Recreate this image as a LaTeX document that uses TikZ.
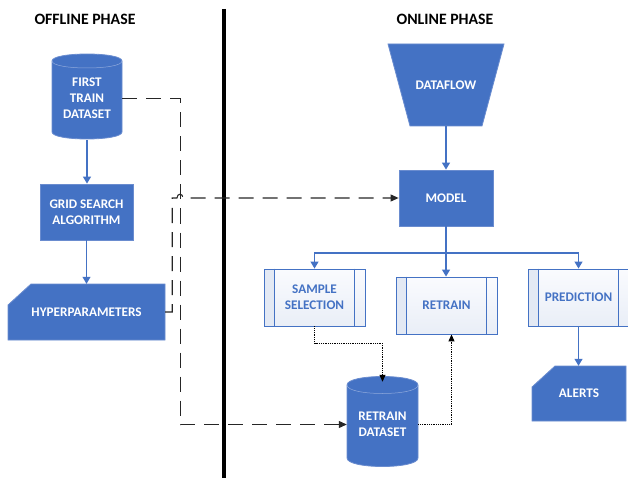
\documentclass[tikz,border=0pt]{standalone}
\usepackage{fontspec}
\setmainfont{Carlito}
\usetikzlibrary{arrows.meta,calc}
\definecolor{bl}{HTML}{4472C4}
\definecolor{bledge}{HTML}{6A8CCF}
\definecolor{pfillA}{HTML}{FAFBFE}
\definecolor{pfillB}{HTML}{E9EEF7}
\definecolor{pstrip}{HTML}{E3E9F4}
\definecolor{cylline}{HTML}{8FA9DC}
\begin{document}
\begin{tikzpicture}[x=1pt,y=-1pt,
  font=\bfseries\fontsize{13.2}{16}\selectfont,
  filled/.style={fill=bl,draw=bledge,line width=0.8pt},
  lbl/.style={text=white,align=center,inner sep=0pt},
  shapebox/.style={lbl,draw=none},
  proc/.style={draw=bl,line width=0.9pt,top color=pfillA,bottom color=pfillB,
    text=bl,align=center,inner sep=0pt,
    path picture={\fill[pstrip] (path picture bounding box.north west) rectangle ([xshift=11pt]path picture bounding box.south west);}},
  blarrow/.style={draw=bl,line width=1.2pt,-{Triangle[width=8pt,length=7pt]}},
  dasharrow/.style={draw=black!85,line width=1.1pt,dash pattern=on 15pt off 9pt,-{Triangle[width=7pt,length=8pt]}},
  dotarrow/.style={draw=black,line width=1.2pt,dash pattern=on 1pt off 0.8pt,-{Triangle[width=6pt,length=7pt]}},
  title/.style={font=\bfseries\fontsize{15.8}{18}\selectfont,text=black}
]
\useasboundingbox (0,0) rectangle (628,478);

% titles
\node[title] (t1) at (85,19) {OFFLINE PHASE};
\node[title] (t2) at (445,19) {ONLINE PHASE};

% separator
\draw[line width=4pt] (224,9) -- (224,478);

% FIRST TRAIN DATASET cylinder
\filldraw[filled] (52,61) .. controls (52,51.67) and (122,51.67) .. (122,61) -- (122,132)
   .. controls (122,141.33) and (52,141.33) .. (52,132) -- cycle;
\draw[cylline,line width=0.5pt] (52,61) .. controls (52,70.33) and (122,70.33) .. (122,61);
\node[shapebox,minimum width=70pt,minimum height=83pt] (ftd) at (87,98.5) {FIRST\\TRAIN\\DATASET};

% GRID SEARCH
\node[filled,lbl,minimum width=93pt,minimum height=56pt] (gsa) at (86.5,212) {GRID SEARCH\\ALGORITHM};

% HYPERPARAMETERS card
\filldraw[filled] (31,284) -- (165,284) -- (165,340) -- (8,340) -- (8,305) -- cycle;
\node[shapebox,minimum width=157pt,minimum height=56pt] (hyp) at (86.5,312) {HYPERPARAMETERS};

% DATAFLOW trapezoid
\filldraw[filled] (388,44) -- (504,44) -- (482,126) -- (410,126) -- cycle;
\node[shapebox,minimum width=116pt,minimum height=82pt] (df) at (446,85) {DATAFLOW};

% MODEL
\node[filled,lbl,minimum width=94pt,minimum height=56pt] (model) at (446,198) {MODEL};

% process boxes
\node[proc,minimum width=101pt,minimum height=57pt] (ss) at (314.5,297.5) {SAMPLE\\SELECTION};
\node[proc,minimum width=101pt,minimum height=57pt] (rt) at (446.5,305.5) {RETRAIN};
\node[proc,minimum width=101pt,minimum height=57pt] (pr) at (578.5,297.5) {PREDICTION};
\foreach \n in {ss,rt,pr}{
  \draw[bl,line width=0.9pt] ([xshift=11pt]\n.north west) -- ([xshift=11pt]\n.south west);
  \draw[bl,line width=0.9pt] ([xshift=-11pt]\n.north east) -- ([xshift=-11pt]\n.south east);
}

% ALERTS card
\filldraw[filled] (555,366) -- (626,366) -- (626,421) -- (532,421) -- (532,387) -- cycle;
\node[shapebox,minimum width=94pt,minimum height=55pt] (al) at (579,393.5) {ALERTS};

% RETRAIN DATASET cylinder
\filldraw[filled] (347,385) .. controls (347,373.67) and (418,373.67) .. (418,385) -- (418,458)
   .. controls (418,469.33) and (347,469.33) .. (347,458) -- cycle;
\draw[cylline,line width=0.5pt] (347,385) .. controls (347,396.33) and (418,396.33) .. (418,385);
\node[shapebox,minimum width=71pt,minimum height=85pt] (rd) at (382.5,424.5) {RETRAIN\\DATASET};

% blue connectors
\draw[blarrow] (ftd.south) -- (ftd.south |- gsa.north);
\draw[blarrow] (gsa.south) -- (gsa.south |- hyp.north);
\draw[blarrow] (df.south) -- (model.north);
\coordinate (br) at (446,253);
\draw[draw=bl,line width=1.2pt] (model.south) -- (br);
\draw[blarrow] (br) -- (br |- rt.north);
\draw[blarrow] (br) -| (ss.north);
\draw[blarrow] (br) -| (pr.north);
\draw[blarrow] (pr.south) -- (pr.south |- al.north);

% dotted connectors
\draw[dotarrow] (ss.south) -- ++(0,17) -| (rd.north);
\draw[dotarrow] (rd.east) -| ([xshift=5pt]rt.south);

% dashed connectors
\draw[dasharrow] (ftd.east) -- ++(58,0) |- (rd.west);
\coordinate (hopL) at (177,198);
\coordinate (hopR) at (183,198);
\draw[dasharrow] (hyp.east) -- ++(7,0) |- (hopL) .. controls +(0,-5) and +(0,-5) .. (hopR) -- (model.west);
\end{tikzpicture}
\end{document}
